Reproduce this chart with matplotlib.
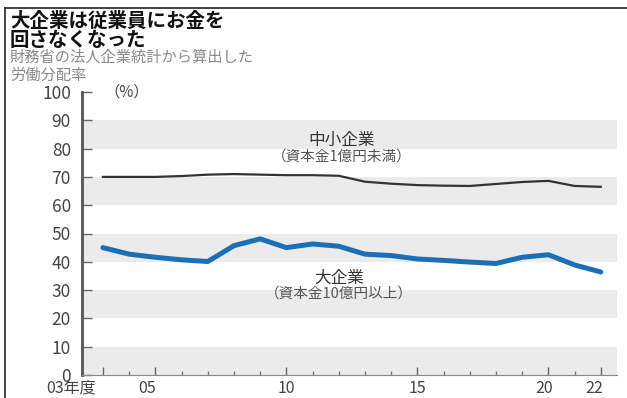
import matplotlib
matplotlib.use("Agg")
import matplotlib.pyplot as plt
from matplotlib.lines import Line2D

plt.rcParams['font.family'] = ['Noto Sans CJK JP', 'DejaVu Sans']

# 年度 (2003 -> 3)
years = [3, 4, 5, 6, 7, 8, 9, 10, 11, 12, 13, 14, 15, 16, 17, 18, 19, 20, 21, 22]

# 労働分配率 (%)
small_firms = [70.0, 70.0, 70.0, 70.3, 70.8, 71.0, 70.8, 70.6, 70.6, 70.4,
               68.3, 67.6, 67.1, 66.9, 66.8, 67.5, 68.2, 68.6, 66.8, 66.5]
large_firms = [45.0, 42.7, 41.6, 40.7, 40.1, 45.7, 48.1, 45.0, 46.3, 45.5,
               42.7, 42.2, 41.0, 40.5, 39.9, 39.4, 41.6, 42.5, 38.9, 36.4]

y_ticks = [0, 10, 20, 30, 40, 50, 60, 70, 80, 90, 100]
x_major = [3, 5, 10, 15, 20, 22]
x_labels = ["03年度", "05", "10", "15", "20", "22"]

title = "大企業は従業員にお金を\n回さなくなった"
subtitle = "財務省の法人企業統計から算出した\n労働分配率"

W, H = 627, 398
fig = plt.figure(figsize=(W / 100, H / 100), dpi=100)


def fx(px):
    return px / W


def fy(py):
    return 1 - py / H


# frame lines (top and left)
fig.add_artist(Line2D([fx(5), fx(5)], [fy(8), 0], color="#222", lw=1.2))
fig.add_artist(Line2D([fx(5), 1], [fy(8), fy(8)], color="#222", lw=1.2))

fig.text(fx(10), fy(12), title, fontsize=14, fontweight="bold",
         color="#111", va="top", ha="left", linespacing=1.02)
fig.text(fx(10), fy(49), subtitle, fontsize=11, color="#8a8a8a",
         va="top", ha="left", linespacing=1.05)

ax = fig.add_axes([fx(82), 23 / H, (617 - 82) / W, (375 - 92) / H])
ax.set_xlim(2.2, 22.62)
ax.set_ylim(0, 100)

# alternating gray bands
for lo in range(0, 90, 20):
    ax.axhspan(lo, lo + 10, color="#ebebeb", lw=0, zorder=0)

ax.plot(years, small_firms, color="#333333", lw=1.6, zorder=3,
        solid_joinstyle="round")
ax.plot(years, large_firms, color="#1b6fb6", lw=3.6, zorder=3,
        solid_joinstyle="round", solid_capstyle="round")

for side in ["top", "right"]:
    ax.spines[side].set_visible(False)
ax.spines["left"].set_color("#555")
ax.spines["left"].set_linewidth(2)
ax.spines["bottom"].set_color("#888")
ax.spines["bottom"].set_linewidth(0.8)

ax.set_yticks(y_ticks)
ax.set_yticklabels([str(v) for v in y_ticks])
ax.tick_params(axis="y", direction="in", length=7, width=1, color="#666",
               labelsize=12.5, labelcolor="#444", pad=8)

ax.set_xticks(x_major)
ax.set_xticks(years, minor=True)
ax.tick_params(axis="x", which="major", direction="in", length=6, width=1,
               color="#666", labelbottom=False)
ax.tick_params(axis="x", which="minor", direction="in", length=3, width=1,
               color="#777")

# year labels under the axis
label_x = [2.73, 4.7, 10, 15, 19.85, 21.75]
for x, lab in zip(label_x, x_labels):
    ax.text(x, -6.2, lab, ha="right" if lab == x_labels[0] else "center",
            va="baseline", fontsize=11.5, color="#444", clip_on=False)

ax.text(3.05, 100, "（%）", ha="left", va="center", fontsize=11,
        color="#444", clip_on=False)

# series names
ax.text(12.1, 82.7, "中小企業", ha="center", va="center", fontsize=12,
        color="#333")
ax.text(12.1, 77.0, "（資本金1億円未満）", ha="center", va="center",
        fontsize=10.5, color="#555")
ax.text(12.0, 34.1, "大企業", ha="center", va="center", fontsize=12,
        color="#333")
ax.text(12.0, 28.6, "（資本金10億円以上）", ha="center", va="center",
        fontsize=10.5, color="#555")

fig.savefig("out.png", dpi=100)
